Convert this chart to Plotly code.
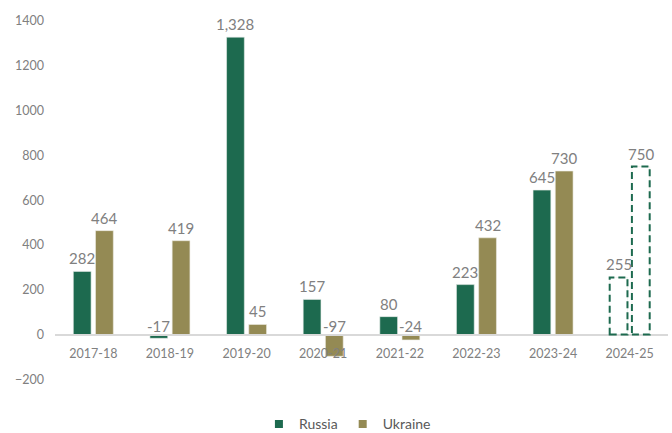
import plotly.graph_objects as go

categories = ["2017-18", "2018-19", "2019-20", "2020-21", "2021-22", "2022-23", "2023-24", "2024-25"]
russia = [282, -17, 1328, 157, 80, 223, 645, 255]
ukraine = [464, 419, 45, -97, -24, 432, 730, 750]
projected = [False, False, False, False, False, False, False, True]

GREEN = "#1D6A4F"
OLIVE = "#948A54"
LABEL = "#808080"
FONT = "Lato"

BARGAP = 0.42
GROUPGAP = 0.2
slot = (1 - BARGAP) / 2
barw = slot * (1 - GROUPGAP)


def colors(base):
    return [("rgba(0,0,0,0)" if p else base) for p in projected]


fig = go.Figure()
fig.add_trace(go.Bar(name="Russia", x=categories, y=russia, showlegend=False,
                     marker=dict(color=colors(GREEN), line=dict(width=0.6, color="#e8ecea")),
                     textposition="none"))
fig.add_trace(go.Bar(name="Ukraine", x=categories, y=ukraine, showlegend=False,
                     marker=dict(color=colors(OLIVE), line=dict(width=0.6, color="#ecebe3")),
                     textposition="none"))
# legend entries with small square swatches
for name, col in (("Russia", GREEN), ("Ukraine", OLIVE)):
    fig.add_trace(go.Scatter(name=name, x=[None], y=[None], mode="markers",
                             marker=dict(symbol="square", size=8, color=col)))

shapes = []
annotations = []
for i, cat in enumerate(categories):
    for vals, off in ((russia, -slot / 2), (ukraine, slot / 2)):
        v = vals[i]
        xc = i + off
        annotations.append(dict(
            x=xc, y=max(v, 0), xref="x", yref="y",
            text=f"{v:,}", showarrow=False,
            yanchor="bottom", yshift=2 if v >= 0 else -2,
            font=dict(family=FONT, size=15, color=LABEL)))
        if projected[i]:
            shapes.append(dict(
                type="rect", xref="x", yref="y",
                x0=xc - barw / 2, x1=xc + barw / 2, y0=0, y1=v,
                line=dict(color=GREEN, width=2, dash="7px,4px"),
                fillcolor="rgba(0,0,0,0)", layer="above"))

fig.update_layout(
    width=672, height=433,
    margin=dict(l=55, r=4, t=21, b=29),
    paper_bgcolor="white", plot_bgcolor="white",
    barmode="group", bargap=BARGAP, bargroupgap=GROUPGAP,
    font=dict(family=FONT, color=LABEL),
    shapes=shapes, annotations=annotations,
    legend=dict(orientation="h", xref="container", yref="container",
                x=0.517, xanchor="center", y=0.02, yanchor="middle",
                font=dict(family=FONT, size=14, color="#595959"),
                itemwidth=30, tracegroupgap=0),
    xaxis=dict(type="category", anchor="free", position=200 / 1600,
               showline=True, linecolor="#d9d9d9", linewidth=1.5,
               showgrid=False, ticks="", ticklabelstandoff=8,
               tickfont=dict(family=FONT, size=12.5, color=LABEL)),
    yaxis=dict(range=[-200, 1400], dtick=200, showgrid=False, zeroline=False,
               showline=False, ticks="", ticklabelstandoff=10,
               tickformat="d",
               tickfont=dict(family=FONT, size=12.5, color=LABEL)),
)

fig.write_html("out.html")
